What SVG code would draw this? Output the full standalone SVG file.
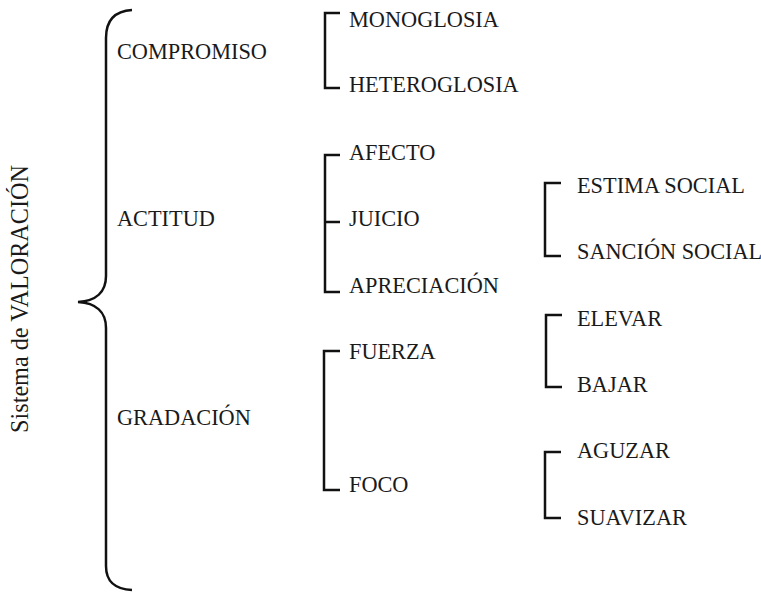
<svg xmlns="http://www.w3.org/2000/svg" width="761" height="592" viewBox="0 0 761 592">
<style>
text{font-family:"Liberation Serif","Times New Roman",serif;font-size:22.3px;fill:#1a1a1a}
.title{font-size:24.2px}
.br{fill:none;stroke:#111;stroke-width:2.5}
</style>
<rect width="761" height="592" fill="#fff"/>
<g id="root">
<text class="title" transform="translate(28,299) rotate(-90)" text-anchor="middle">Sistema de VALORACIÓN</text>
</g>
<g id="connectors">
<path class="br" d="M132,10 C115,11 106,20 106,38 V276 C106,292 96,301 78,302 C96,303 106,312 106,328 V566 C106,582 115,589 132,590"/>
<path class="br" d="M340,13 H325 V88 H340"/>
<path class="br" d="M340,155 H325 V292 H340 M325,222 H340"/>
<path class="br" d="M340,351 H324 V490 H340"/>
<path class="br" d="M561,183 H545 V256 H561"/>
<path class="br" d="M562,315 H546 V387 H562"/>
<path class="br" d="M561,452 H545 V518 H561"/>
</g>
<g id="compromiso"><text x="117" y="59">COMPROMISO</text></g>
<g id="actitud"><text x="117" y="226">ACTITUD</text></g>
<g id="gradacion"><text x="117" y="425">GRADACIÓN</text></g>
<g id="monoglosia"><text x="349" y="27">MONOGLOSIA</text></g>
<g id="heteroglosia"><text x="349" y="92">HETEROGLOSIA</text></g>
<g id="afecto"><text x="349" y="160">AFECTO</text></g>
<g id="juicio"><text x="349" y="226">JUICIO</text></g>
<g id="apreciacion"><text x="349" y="293">APRECIACIÓN</text></g>
<g id="fuerza"><text x="349" y="359">FUERZA</text></g>
<g id="foco"><text x="349" y="492">FOCO</text></g>
<g id="estima"><text x="577" y="193">ESTIMA SOCIAL</text></g>
<g id="sancion"><text x="577" y="259">SANCIÓN SOCIAL</text></g>
<g id="elevar"><text x="577" y="326">ELEVAR</text></g>
<g id="bajar"><text x="577" y="392">BAJAR</text></g>
<g id="aguzar"><text x="577" y="458">AGUZAR</text></g>
<g id="suavizar"><text x="577" y="525">SUAVIZAR</text></g>
</svg>
